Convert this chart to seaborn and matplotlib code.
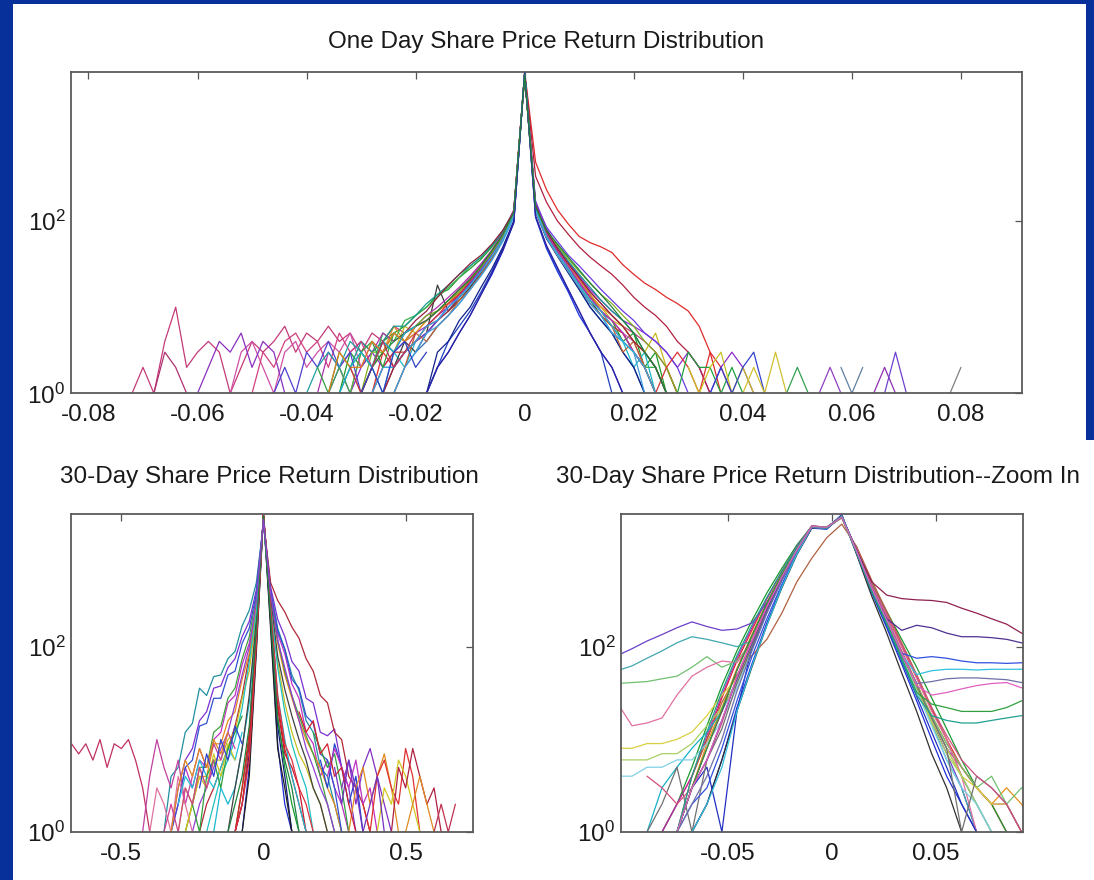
import numpy as np
import pandas as pd
import matplotlib
matplotlib.use("Agg")
import matplotlib.pyplot as plt
from matplotlib import ticker
from matplotlib.patches import Rectangle
import seaborn as sns

# ---------------- data ----------------
# histogram bin centres for each panel
TOP_X = [-0.072, -0.070, -0.068, -0.066, -0.064, -0.062, -0.060, -0.058, -0.056, -0.054,
         -0.052, -0.050, -0.048, -0.046, -0.044, -0.042, -0.040, -0.038, -0.036, -0.034,
         -0.032, -0.030, -0.028, -0.026, -0.024, -0.022, -0.020, -0.018, -0.016, -0.014,
         -0.012, -0.010, -0.008, -0.006, -0.004, -0.002, 0.000, 0.002, 0.004, 0.006,
         0.008, 0.010, 0.012, 0.014, 0.016, 0.018, 0.020, 0.022, 0.024, 0.026,
         0.028, 0.030, 0.032, 0.034, 0.036, 0.038, 0.040, 0.042, 0.044, 0.046,
         0.048, 0.050, 0.052, 0.054, 0.056, 0.058, 0.060, 0.062, 0.064, 0.066,
         0.068, 0.070, 0.072, 0.074, 0.076, 0.078, 0.080, 0.082, 0.084]
TOP_CENTRE = 0.000

# counts per stock: left side (outward from the peak), peak, right side (outward)
TOP_LEFT = [
    [95, 45, 24, 14, 8, 5, 3, 2, 1],
    [125, 75, 50, 36, 28, 22, 16, 14, 10, 8, 6, 5, 4, 3, 2, 3, 1],
    [120, 66, 40, 27, 19, 14, 10, 7, 6, 4, 3, 2, 3, 1],
    [118, 65, 40, 26, 18, 13, 9, 7, 5, 4, 2, 3, 1, 2, 1],
    [130, 70, 44, 30, 21, 15, 11, 9, 7, 6, 5, 6, 4, 5, 3, 5, 4, 6, 4, 5, 3, 6, 4, 3, 4, 2, 1, 3, 4, 3, 2, 10, 4, 1, 2, 1],
    [125, 72, 46, 31, 22, 16, 12, 9, 7, 5, 6, 3, 4, 2, 1, 2, 1],
    [115, 62, 38, 25, 17, 12, 9, 18, 5, 3, 4, 2, 1],
    [122, 68, 42, 28, 20, 14, 10, 8, 6, 5, 4, 3, 2, 3, 2, 1, 2, 1],
    [118, 64, 38, 26, 18, 13, 9, 7, 5, 4, 3, 2, 1],
    [128, 72, 45, 30, 22, 15, 11, 9, 7, 5, 4, 6, 3, 2, 3, 1],
    [112, 60, 36, 24, 16, 11, 8, 6, 4, 3, 2, 1],
    [130, 78, 52, 38, 30, 22, 17, 13, 10, 8, 7, 4, 5, 2, 3, 1, 2, 1],
    [135, 72, 45, 31, 22, 16, 12, 9, 7, 6, 4, 5, 3, 4, 2, 5, 3, 4, 3, 2, 4, 3, 1, 2, 4, 3, 1],
    [98, 48, 26, 15, 9, 6, 4, 2, 1],
    [120, 66, 41, 27, 19, 13, 10, 7, 5, 4, 3, 2, 2, 1],
    [100, 50, 28, 17, 10, 7, 4, 3, 1],
    [126, 70, 43, 29, 20, 14, 11, 8, 6, 4, 3, 3, 2, 1],
    [132, 74, 46, 32, 23, 17, 13, 10, 8, 6, 5, 4, 5, 3, 4, 3, 2, 3, 1],
    [122, 76, 52, 38, 30, 24, 18, 14, 11, 8, 6, 6, 4, 3, 4, 2, 1],
    [118, 62, 37, 24, 16, 12, 8, 6, 4, 5, 2, 1],
    [124, 68, 43, 29, 21, 15, 12, 9, 8, 6, 4, 5, 3, 3, 1],
    [110, 58, 35, 23, 16, 11, 8, 6, 5, 3, 2, 1],
    [128, 78, 54, 40, 32, 24, 18, 13, 9, 7, 5, 3, 4, 2, 1],
    [116, 62, 39, 26, 18, 13, 10, 7, 6, 4, 3, 2, 2, 1],
    [96, 46, 25, 14, 8, 5, 3, 2, 1],
    [126, 70, 45, 30, 21, 16, 12, 9, 7, 6, 5, 4, 3, 2, 1],
]
TOP_PEAK = [5300, 5000, 5300, 5100, 5200, 4600, 5300, 5000, 5300, 4800, 5200, 4700, 5000,
            5300, 5100, 5300, 5000, 4900, 4900, 5200, 5000, 5300, 4900, 5200, 5300, 5000]
TOP_RIGHT = [
    [110, 48, 26, 15, 8, 5, 3, 2, 1],
    [145, 72, 46, 30, 21, 14, 9, 7, 4, 5, 2, 3, 1],
    [480, 230, 135, 92, 66, 56, 50, 43, 31, 24, 19, 16, 13, 11, 9, 6, 3, 1],
    [135, 65, 42, 27, 17, 11, 8, 5, 4, 2, 3, 1],
    [150, 75, 48, 32, 22, 15, 11, 8, 6, 5, 4, 3, 2, 1],
    [140, 70, 44, 29, 19, 13, 10, 7, 6, 4, 3, 5, 2, 1],
    [135, 66, 42, 27, 18, 12, 8, 6, 4, 3, 2, 1],
    [170, 82, 50, 33, 23, 16, 12, 9, 7, 6, 5, 4, 3, 2, 3, 2, 1, 2, 3, 2, 1],
    [330, 165, 100, 70, 50, 38, 30, 24, 18, 13, 10, 8, 6, 4, 3, 2, 1],
    [150, 74, 47, 31, 21, 14, 10, 8, 6, 4, 3, 2, 1],
    [128, 62, 40, 25, 16, 10, 7, 5, 3, 2, 1],
    [140, 68, 43, 28, 18, 12, 9, 6, 5, 3, 2, 2, 1],
    [145, 72, 46, 30, 20, 13, 9, 7, 5, 4, 2, 1],
    [112, 50, 28, 16, 9, 5, 3, 1],
    [160, 85, 58, 40, 30, 22, 16, 12, 9, 7, 5, 4, 3, 2, 1],
    [132, 63, 39, 25, 16, 10, 7, 5, 3, 2, 1],
    [138, 68, 44, 29, 19, 13, 9, 6, 5, 3, 2, 1, 2, 1],
    [148, 72, 45, 29, 19, 13, 9, 7, 5, 3, 2, 1],
    [150, 76, 50, 34, 24, 17, 12, 9, 7, 5, 3, 2, 1],
    [130, 64, 40, 26, 17, 11, 8, 6, 3, 4, 2, 1],
    [142, 76, 52, 36, 26, 19, 14, 11, 8, 6, 4, 3, 2, 1],
    [132, 64, 40, 26, 17, 11, 8, 5, 4, 3, 1],
    [152, 76, 48, 32, 22, 15, 11, 8, 6, 4, 3, 2, 1],
    [136, 66, 42, 28, 18, 12, 9, 6, 4, 3, 2, 1],
    [114, 52, 29, 16, 9, 5, 3, 2, 1],
    [144, 78, 54, 38, 27, 19, 14, 10, 7, 5, 3, 2, 1],
]
# isolated pieces of the tails (zero-count bins break the lines)
TOP_TAIL_X0 = [-0.068, -0.060, -0.050, -0.046, -0.040, -0.038, -0.036, -0.034, -0.032, -0.030,
               0.026, 0.028, 0.030, 0.034, 0.040, 0.048, 0.054, 0.058, 0.064, 0.066, 0.078]
TOP_TAIL_N = [
    [1, 3, 2, 1], [1, 2, 4, 3, 5, 2, 4, 3, 1], [1, 3, 2, 4, 5, 3, 4, 2, 5, 3, 4, 2],
    [1, 2, 1, 3, 2, 4, 2, 3, 1], [1, 2, 3, 2, 4, 3, 2, 4, 3], [2, 1, 3, 2, 3, 4, 2, 5],
    [1, 3, 2, 2, 4, 3, 5, 4, 6], [1, 2, 3, 2, 4, 3, 5, 6], [2, 1, 2, 4, 2, 3, 5],
    [1, 2, 1, 3, 4, 2, 3], [2, 3, 2, 1, 3, 2, 1],
    [1, 3, 2, 2, 1, 2, 1], [2, 1, 2, 3, 1, 2, 1], [1, 2, 1, 2, 3, 1], [1, 2, 1, 3, 1],
    [1, 2, 1], [1, 2, 1], [2, 1, 2], [1, 2, 1], [1, 3, 1], [1, 2],
]

BL_X = [-0.700, -0.675, -0.650, -0.625, -0.600, -0.575, -0.550, -0.525, -0.500, -0.475,
        -0.450, -0.425, -0.400, -0.375, -0.350, -0.325, -0.300, -0.275, -0.250, -0.225,
        -0.200, -0.175, -0.150, -0.125, -0.100, -0.075, -0.050, -0.025, 0.000, 0.025,
        0.050, 0.075, 0.100, 0.125, 0.150, 0.175, 0.200, 0.225, 0.250, 0.275,
        0.300, 0.325, 0.350, 0.375, 0.400, 0.425, 0.450, 0.475, 0.500, 0.525,
        0.550, 0.575, 0.600, 0.625, 0.650, 0.675, 0.700, 0.725, 0.750]
BL_CENTRE = 0.000
BL_LEFT = [
    [100, 5, 1], [120, 7, 2, 1], [140, 10, 3, 1], [90, 4, 1], [150, 12, 3, 1], [130, 9, 2, 1],
    [170, 25, 8, 3, 2, 3, 1],
    [260, 110, 65, 30, 25, 12, 10, 5, 6, 3, 5, 2, 1],
    [500, 250, 170, 90, 75, 50, 48, 30, 36, 15, 12, 5, 4, 1],
    [420, 190, 130, 75, 60, 38, 36, 20, 16, 8, 6, 3, 1],
    [300, 80, 30, 14, 8, 5, 3, 2, 1],
    [280, 85, 45, 20, 16, 9, 9, 4, 4, 2, 1],
    [220, 55, 28, 12, 10, 6, 6, 3, 4, 2, 3, 1],
    [350, 130, 75, 36, 28, 14, 12, 5, 5, 2, 1],
    [380, 160, 110, 55, 50, 28, 28, 15, 14, 6, 5, 2, 1],
    [200, 30, 8, 3, 1],
    [240, 70, 22, 10, 6, 4, 2, 1],
    [110, 6, 2, 1],
    [160, 14, 4, 2, 1],
    [320, 100, 50, 24, 12, 8, 5, 3, 2, 1],
]
BL_PEAK = [2750, 2700, 2600, 2750, 2700, 2750, 2500, 2400, 2200, 2300, 2300, 2400, 2500, 2300,
           2300, 2600, 2500, 2750, 2650, 2400]
BL_RIGHT = [
    [180, 9, 2, 1], [220, 14, 4, 1], [240, 18, 5, 2, 1], [160, 8, 3, 1],
    [320, 25, 8, 4, 2, 1], [300, 22, 7, 5, 3, 1], [260, 30, 10, 4, 2, 1],
    [380, 140, 85, 40, 28, 12, 9, 4, 6, 3, 2, 1],
    [420, 160, 95, 50, 34, 16, 12, 5, 4, 2, 1],
    [450, 200, 130, 70, 55, 28, 25, 12, 11, 13, 5, 3, 1],
    [500, 320, 240, 165, 125, 75, 55, 30, 25, 12, 10, 4, 3, 2, 1],
    [350, 110, 50, 28, 16, 10, 7, 5, 3, 2, 1],
    [300, 70, 25, 12, 7, 5, 3, 2, 1],
    [360, 120, 55, 30, 18, 11, 7, 4, 2, 1],
    [400, 150, 95, 45, 36, 18, 15, 7, 6, 3, 1],
    [330, 80, 35, 18, 10, 6, 3, 2, 1],
    [280, 60, 20, 9, 5, 3, 1],
    [280, 30, 9, 6, 3, 2, 1],
    [210, 16, 6, 3, 1],
    [380, 120, 60, 30, 16, 8, 5, 3, 2, 1],
]
BL_TAIL_X0 = [-0.700, -0.425, -0.400, -0.325, -0.300, -0.275, -0.250, -0.350, -0.225,
              0.175, 0.200, 0.225, 0.275, 0.300, 0.350, 0.400, 0.450, 0.500, 0.600, 0.125, 0.250]
BL_TAIL_N = [
    [8, 9, 7, 9, 6, 10, 5, 9, 8, 10, 6, 3, 1],
    [1, 4, 10, 5, 3, 6, 2, 4, 8, 5, 9, 6, 12, 8],
    [1, 3, 2, 1, 4, 2, 1], [1, 3, 6, 4, 8, 5, 10, 7, 12], [2, 4, 3, 6, 4, 3, 5, 8, 6, 12],
    [1, 2, 5, 3, 7, 4, 9, 6], [2, 1, 4, 6, 3, 8, 12, 18], [1, 2, 1, 3, 2, 5, 3, 6],
    [3, 7, 4, 10, 6, 14, 9],
    [12, 8, 5, 7, 3, 1], [6, 3, 9, 5, 2, 4, 1], [4, 8, 5, 3, 6, 2, 3, 1], [3, 6, 2, 5, 8, 4, 2, 1],
    [1, 3, 5, 2, 4, 7, 3, 1], [2, 1, 4, 6, 3, 2, 8, 4, 1], [1, 3, 2, 6, 4, 2, 1],
    [1, 5, 3, 8, 4, 2, 3, 1], [1, 2, 4, 2, 1], [1, 2, 1, 2], [20, 12, 16, 7, 9, 4, 5, 2, 1],
    [5, 2, 6, 3, 1, 2, 4, 1],
]

BR_X = [-0.1033, -0.0961, -0.0889, -0.0817, -0.0745, -0.0673, -0.0601, -0.0529, -0.0457, -0.0385,
        -0.0313, -0.0241, -0.0169, -0.0097, -0.0025, 0.0047, 0.0119, 0.0191, 0.0263, 0.0335,
        0.0407, 0.0479, 0.0551, 0.0623, 0.0695, 0.0767, 0.0839, 0.0911, 0.0983]
BR_CENTRE = 0.0047
BR_LEFT = [
    [1850, 1900, 1000, 450, 180, 65, 22, 6, 2, 1],
    [1950, 2000, 1200, 650, 330, 150, 70, 28, 10, 4, 2, 1],
    [1950, 2000, 1250, 700, 380, 190, 90, 38, 14, 5, 2, 1],
    [1950, 2000, 1200, 640, 330, 160, 75, 30, 11, 4, 2, 1],
    [1880, 1900, 980, 430, 170, 60, 20, 6, 2, 1],
    [1500, 900, 500, 230, 120, 80, 50, 25, 10, 4, 1],
    [1920, 1980, 1150, 610, 300, 135, 58, 22, 9, 3, 1],
    [1900, 1960, 1090, 545, 255, 108, 44, 20, 12, 8, 5, 3, 1],
    [1900, 1950, 1080, 560, 300, 180, 155, 150, 165, 185, 160, 135, 115, 95, 80],
    [1920, 1960, 1090, 550, 260, 115, 100, 110, 120, 128, 110, 90, 75, 62, 55],
    [1950, 1970, 1100, 555, 262, 112, 70, 60, 78, 60, 48, 45, 42, 41, 40],
    [1900, 1950, 1100, 545, 258, 110, 67, 70, 60, 48, 30, 17, 15, 14, 25],
    [1930, 1960, 1090, 540, 250, 100, 45, 30, 18, 12, 10, 9, 9, 8, 8],
    [1910, 1950, 1070, 530, 245, 95, 40, 22, 14, 9, 7, 7, 6, 6, 6],
    [1880, 1940, 1060, 520, 240, 92, 36, 16, 9, 6, 6, 5, 5, 4, 4],
    [1880, 1930, 1050, 520, 235, 98, 20, 1, 5, 3, 1],
    [1900, 1950, 1080, 535, 245, 100, 40, 13, 6, 1, 5, 2, 1],
    [1940, 1990, 1120, 575, 275, 118, 48, 15, 6, 3, 2, 3, 4],
    [1900, 1950, 1120, 600, 290, 130, 56, 20, 8, 3, 1],
    [1920, 1960, 1090, 550, 258, 110, 45, 16, 6, 3, 1],
    [1880, 1930, 1020, 470, 200, 78, 26, 8, 3, 2, 1],
    [1910, 1950, 1000, 440, 170, 62, 20, 5, 2, 1],
    [1890, 1940, 1070, 520, 230, 90, 33, 10, 4, 2, 1],
    [1930, 1970, 1140, 600, 295, 130, 55, 21, 8, 3, 1],
    [1900, 1960, 1180, 650, 340, 170, 80, 33, 12, 4, 1],
    [1940, 1980, 1110, 565, 268, 114, 47, 16, 6, 3, 1],
]
BR_PEAK = [2600, 2500, 2550, 2450, 2650, 2100, 2500, 2550, 2500, 2550, 2500, 2550, 2500,
           2450, 2600, 2650, 2550, 2500, 2500, 2550, 2600, 2550, 2600, 2500, 2550, 2500]
BR_RIGHT = [
    [1000, 380, 160, 65, 26, 10, 4, 2, 1],
    [1100, 470, 220, 100, 46, 21, 10, 5, 3, 2, 1],
    [1100, 480, 240, 120, 60, 28, 13, 6, 3, 2, 1],
    [1080, 450, 205, 90, 40, 17, 8, 5, 3, 2, 2, 1],
    [980, 350, 140, 52, 20, 7, 3, 1],
    [1200, 520, 240, 110, 50, 22, 10, 4, 2, 1],
    [1080, 440, 200, 88, 40, 18, 9, 5, 3, 2, 3, 2, 1],
    [1060, 430, 195, 85, 38, 17, 8, 4, 2, 1],
    [1050, 420, 190, 82, 36, 16, 7, 3, 1],
    [1040, 415, 185, 78, 34, 15, 6, 3, 1],
    [1070, 435, 200, 86, 39, 18, 9, 5, 3, 4, 2, 3, 2],
    [1100, 460, 220, 100, 46, 20, 10, 4, 1],
    [1060, 425, 190, 84, 37, 16, 8, 4, 3, 2, 2, 1],
    [1040, 410, 185, 80, 35, 15, 7, 4, 2, 1],
    [1030, 405, 180, 78, 33, 14, 6, 3, 2, 1, 1],
    [1010, 395, 170, 70, 29, 12, 5, 2, 1],
    [1060, 430, 195, 86, 38, 17, 8, 1, 4, 3, 2, 1],
    [1120, 470, 225, 105, 48, 22, 11, 6, 4, 3, 2, 1],
    [1100, 500, 360, 330, 320, 315, 300, 260, 230, 200, 175, 140, 120],
    [1070, 430, 200, 150, 170, 160, 140, 128, 128, 125, 120, 110, 100],
    [1050, 420, 190, 85, 75, 78, 75, 70, 67, 67, 66, 67, 68],
    [1060, 425, 190, 82, 50, 55, 57, 57, 56, 57, 57, 57, 58],
    [1040, 410, 185, 80, 40, 42, 45, 46, 46, 45, 44, 41, 40],
    [1030, 400, 180, 75, 32, 24, 22, 20, 20, 20, 22, 26, 28],
    [1020, 395, 175, 72, 30, 18, 16, 15, 15, 16, 17, 18, 18],
    [1060, 430, 195, 85, 38, 30, 32, 35, 38, 40, 41, 36, 35],
]

TOP_TICKS = [-0.08, -0.06, -0.04, -0.02, 0, 0.02, 0.04, 0.06, 0.08]
TOP_TICK_LABELS = ["-0.08", "-0.06", "-0.04", "-0.02", "0", "0.02", "0.04", "0.06", "0.08"]
BL_TICKS = [-0.5, 0, 0.5]
BL_TICK_LABELS = ["-0.5", "0", "0.5"]
BR_TICKS = [-0.05, 0, 0.05]
BR_TICK_LABELS = ["-0.05", "0", "0.05"]

TITLES = ["One Day Share Price Return Distribution",
          "30-Day Share Price Return Distribution",
          "30-Day Share Price Return Distribution--Zoom In"]

# ---------------- styling ----------------
TOP_COLORS = ["#1530e0", "#1a9a2a", "#e02a2a", "#18b8c8", "#c43a78", "#c8b820", "#3a3a3a",
              "#8a2ad0", "#b02040", "#e88a1a", "#2a70b0", "#3ab050", "#d050a8", "#2040c0",
              "#6a3ae0", "#10208a", "#d03030", "#b030b0", "#1a9a90", "#c06030", "#80b020",
              "#40a0e0", "#902040", "#30b0e0", "#3020a0", "#20803a"]
TOP_TAIL_COLORS = ["#b03070", "#8a30c0", "#d04080", "#5040d0", "#20a0a0", "#30a040", "#e08020",
                   "#20b0d0", "#c03050", "#3040c0", "#e03030", "#20a040", "#c8c020", "#3040d0",
                   "#d0c030", "#30a050", "#9040c0", "#6080a0", "#9030b0", "#7040d0", "#808080"]
BL_COLORS = ["#1a2ad0", "#101a80", "#1a9a30", "#202020", "#e02020", "#c81830", "#18b8d0",
             "#c030c0", "#2090a0", "#7a30d0", "#b02838", "#e88a1a", "#c8c020", "#40a040",
             "#3050d0", "#404040", "#20c0c0", "#e03040", "#208040", "#9040d0"]
BL_TAIL_COLORS = ["#c03060", "#c040a0", "#e070a0", "#e08a20", "#20c0d8", "#d0c820", "#30a040",
                  "#d04090", "#3040d0", "#30a040", "#2040d0", "#c030c0", "#8030c0", "#e08a20",
                  "#e03030", "#d0c820", "#b02040", "#e08a20", "#c03050", "#d02030", "#7030c0"]
BR_COLORS = ["#1f2fd8", "#e02828", "#189a30", "#c028b8", "#303030", "#b06040", "#e8901a",
             "#18b0c8", "#6a40c8", "#40a8b0", "#70c070", "#e070a0", "#d8d040", "#a8d060",
             "#80d0e8", "#2030c0", "#707070", "#d05080", "#902050", "#503090", "#3050e0",
             "#30c0e0", "#7070a8", "#30a040", "#20a090", "#e060c0"]

NAVY = "#08309a"


def build_frame(grid, centre, lefts, peaks, rights, tail_x0=(), tail_n=()):
    grid = list(grid)
    c = int(np.argmin(np.abs(np.array(grid) - centre)))
    rows = []
    for i, (lft, pk, rgt) in enumerate(zip(lefts, peaks, rights)):
        xs = [grid[c - k] for k in range(len(lft), 0, -1)] + [grid[c]] + \
             [grid[c + k] for k in range(1, len(rgt) + 1)]
        ys = list(reversed(lft)) + [pk] + list(rgt)
        rows += [(f"c{i:02d}", x, y) for x, y in zip(xs, ys)]
    for j, (x0, n) in enumerate(zip(tail_x0, tail_n)):
        i0 = int(np.argmin(np.abs(np.array(grid) - x0)))
        rows += [(f"t{j:02d}", grid[i0 + k], y) for k, y in enumerate(n)]
    return pd.DataFrame(rows, columns=["line", "x", "count"])


def draw(ax, df, colors, tail_colors, xlim, ylim, ticks, tick_labels):
    pal = {}
    for name in df["line"].unique():
        k = int(name[1:])
        pal[name] = colors[k % len(colors)] if name[0] == "c" else tail_colors[k % len(tail_colors)]
    sns.lineplot(data=df, x="x", y="count", hue="line", palette=pal, estimator=None,
                 sort=False, legend=False, linewidth=0.9, ax=ax)
    ax.set_yscale("log")
    ax.set_xlim(*xlim)
    ax.set_ylim(*ylim)
    ax.set_xticks(ticks)
    ax.set_xticklabels(tick_labels)
    ax.set_yticks([1, 100])
    ax.yaxis.set_major_formatter(ticker.LogFormatterSciNotation())
    ax.yaxis.set_minor_locator(ticker.NullLocator())
    ax.xaxis.set_minor_locator(ticker.NullLocator())
    ax.set_xlabel("")
    ax.set_ylabel("")
    ax.tick_params(direction="in", length=5, width=0.9, top=True, right=True,
                   color="#555555", labelcolor="#1a1a1a", labelsize=17.5)
    ax.tick_params(axis="x", pad=8)
    ax.tick_params(axis="y", pad=4)
    for s in ax.spines.values():
        s.set_color("#5a5a5a")
        s.set_linewidth(1.3)
    ax.set_facecolor("white")


sns.set_theme(style="white")
plt.rcParams["font.family"] = ["Liberation Sans", "DejaVu Sans"]
plt.rcParams["axes.unicode_minus"] = False

W, H = 1094, 880
fig = plt.figure(figsize=(W / 100, H / 100), dpi=100, facecolor=NAVY)
fig.patches.append(Rectangle((13 / W, 0), 1 - 13 / W, 1 - 4 / H, transform=fig.transFigure,
                             facecolor="white", edgecolor="none", zorder=-10))
fig.patches.append(Rectangle((1086 / W, 1 - 440 / H), 8 / W, 440 / H, transform=fig.transFigure,
                             facecolor=NAVY, edgecolor="none", zorder=-9))

ax_top = fig.add_axes([71 / W, 1 - 393.3 / H, (1022 - 71) / W, (393.3 - 72) / H])
ax_bl = fig.add_axes([71 / W, 1 - 832 / H, (473 - 71) / W, (832 - 514) / H])
ax_br = fig.add_axes([621 / W, 1 - 832 / H, (1023 - 621) / W, (832 - 514) / H])

draw(ax_top, build_frame(TOP_X, TOP_CENTRE, TOP_LEFT, TOP_PEAK, TOP_RIGHT, TOP_TAIL_X0, TOP_TAIL_N),
     TOP_COLORS, TOP_TAIL_COLORS, (-0.0832, 0.0912), (1, 5350), TOP_TICKS, TOP_TICK_LABELS)
draw(ax_bl, build_frame(BL_X, BL_CENTRE, BL_LEFT, BL_PEAK, BL_RIGHT, BL_TAIL_X0, BL_TAIL_N),
     BL_COLORS, BL_TAIL_COLORS, (-0.677, 0.737), (1, 2760), BL_TICKS, BL_TICK_LABELS)
draw(ax_br, build_frame(BR_X, BR_CENTRE, BR_LEFT, BR_PEAK, BR_RIGHT),
     BR_COLORS, BR_COLORS, (-0.1014, 0.0918), (1, 2700), BR_TICKS, BR_TICK_LABELS)

title_kw = dict(ha="center", va="baseline", fontsize=17.5, color="#1a1a1a")
fig.text(546.5 / W, 1 - 48 / H, TITLES[0], **title_kw)
fig.text(269 / W, 1 - 483 / H, TITLES[1], **title_kw)
fig.text(818.5 / W, 1 - 483 / H, TITLES[2], **title_kw)

fig.savefig("out.png", dpi=100, facecolor=fig.get_facecolor())
